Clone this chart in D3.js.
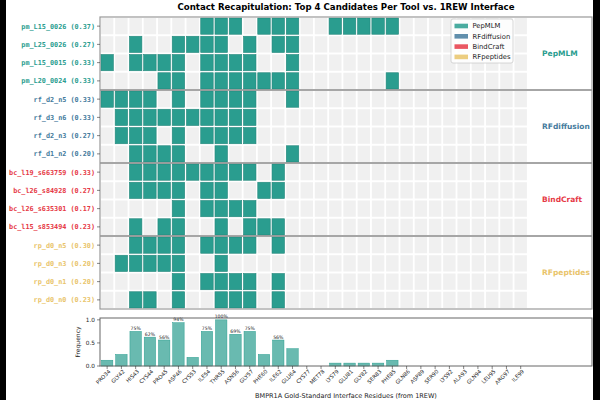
<!DOCTYPE html>
<html><head><meta charset="utf-8">
<script src="https://cdn.jsdelivr.net/npm/d3@7"></script>
<style>html,body{margin:0;padding:0;background:#000;}svg{display:block;}</style>
</head><body>
<svg id="c" width="600" height="400"></svg>
<script>
const residues = ["PRO34","GLY42","HIS43","CYS44","PRO45","ASP46","CYS53","ILE54","THR55","ASN56","GLY57","PHE60","ILE62","GLU64","CYS77","MET78","LYS79","GLU81","GLY82","SER83","PHE85","GLN86","ASP89","SER90","LYS92","ALA93","GLN94","LEU95","ARG97","ILE99"];
const tools = ["PepMLM","RFdiffusion","BindCraft","RFpeptides"];
const toolColors = ["#2a9d8f","#457b9d","#e63946","#e9c46a"];
const candidates = ["pm_L15_0026","pm_L25_0026","pm_L15_0015","pm_L20_0024",
  "rf_d2_n5","rf_d3_n6","rf_d2_n3","rf_d1_n2",
  "bc_l19_s663759","bc_l26_s84928","bc_l26_s635301","bc_l15_s853494",
  "rp_d0_n5","rp_d0_n3","rp_d0_n1","rp_d0_n0"];
const candidateTool = [0,0,0,0,1,1,1,1,2,2,2,2,3,3,3,3];
const scores = [0.37,0.27,0.33,0.33,0.33,0.33,0.27,0.20,0.33,0.27,0.17,0.23,0.30,0.20,0.20,0.23];
// residue indices contacted by each candidate
const contacts = [
  [7,8,9,11,12,13,16,17,18,19,20],
  [2,5,6,7,8,10,12,13],
  [0,2,3,4,5,7,8,9,10,13],
  [4,5,7,8,9,10,11,12,13,20],
  [0,1,2,3,5,7,8,9,10,13],
  [1,2,3,4,5,6,7,8,9,10],
  [1,2,3,5,7,8,9,10],
  [2,3,4,5,8,13],
  [2,3,4,5,6,7,8,9,10,12],
  [2,3,4,5,7,8,11,12],
  [5,7,8,9,10],
  [2,4,5,8,10,11,12],
  [2,3,4,5,7,8,9,10,12],
  [1,2,3,4,5,8],
  [5,7,8,9,10,12],
  [2,3,5,8,9,10,12]
];
const freqTicks = [0, 0.5, 1.0];

const svg = d3.select("#c");
svg.append("rect").attr("x",6).attr("y",0).attr("width",587).attr("height",400).attr("fill","#fff");

const x = d3.scaleLinear().domain([-0.5, 34]).range([100, 592]);
const y = d3.scaleLinear().domain([-0.5, 15.5]).range([17, 309]);
const cw = x(1)-x(0), ch = y(1)-y(0);

// title
svg.append("text").attr("x",346).attr("y",10).attr("text-anchor","middle")
  .attr("font-family","DejaVu Sans").attr("font-weight","bold").attr("font-size",8.6)
  .text("Contact Recapitulation: Top 4 Candidates Per Tool vs. 1REW Interface");

// cells
const cells = [];
candidates.forEach((c,r)=>residues.forEach((res,i)=>cells.push({r,i,on:contacts[r].includes(i)})));
svg.append("g").selectAll("rect").data(cells).join("rect")
  .attr("x",d=>x(d.i)-cw/2+0.9).attr("y",d=>y(d.r)-ch/2+1)
  .attr("width",cw-1.8).attr("height",ch-2)
  .attr("fill",d=>d.on?"#2a9d8f":"#f0f0f0")
  .attr("stroke",d=>d.on?"#23877b":"none").attr("stroke-width",0.6);

// group separators
[3.5,7.5,11.5].forEach(b=>{
  svg.append("line").attr("x1",x(-0.5)).attr("x2",x(34)).attr("y1",y(b)).attr("y2",y(b))
    .attr("stroke","#888").attr("stroke-width",1.5);
});
// frame
svg.append("rect").attr("x",x(-0.5)).attr("y",y(-0.5)).attr("width",x(34)-x(-0.5)).attr("height",y(15.5)-y(-0.5))
  .attr("fill","none").attr("stroke","#999").attr("stroke-width",1.2);

// row labels
const yl = svg.append("g");
candidates.forEach((c,r)=>{
  yl.append("line").attr("x1",97).attr("x2",100).attr("y1",y(r)).attr("y2",y(r)).attr("stroke","#333").attr("stroke-width",0.6);
  yl.append("text").attr("x",95).attr("y",y(r)).attr("dy","0.35em").attr("text-anchor","end")
    .attr("font-family","DejaVu Sans Mono").attr("font-weight","bold").attr("font-size",6.8)
    .attr("fill",toolColors[candidateTool[r]])
    .text(`${c} (${scores[r].toFixed(2)})`);
});
// group labels
tools.forEach((t,g)=>{
  svg.append("text").attr("x",x(30.5)).attr("y",y(g*4+1.5)).attr("dy","0.35em")
    .attr("font-family","DejaVu Sans").attr("font-weight","bold").attr("font-size",7.5)
    .attr("fill",toolColors[g]).text(t);
});

// legend
const lg = svg.append("g");
lg.append("rect").attr("x",451).attr("y",19).attr("width",62).attr("height",44).attr("rx",2)
  .attr("fill","#fff").attr("fill-opacity",0.85).attr("stroke","#ccc").attr("stroke-width",0.8);
tools.forEach((t,g)=>{
  const yy = 26 + g*10.3;
  lg.append("rect").attr("x",454.5).attr("y",yy-2.3).attr("width",13.5).attr("height",4.6)
    .attr("fill",toolColors[g]).attr("fill-opacity",0.85);
  lg.append("text").attr("x",472.5).attr("y",yy).attr("dy","0.35em")
    .attr("font-family","DejaVu Sans").attr("font-size",6.8).attr("fill","#222").text(t);
});

// bar chart
const freq = residues.map((r,i)=>contacts.filter(c=>c.includes(i)).length / contacts.length);
function pct(f){ const v=f*100, fl=Math.floor(v); const r = (v-fl===0.5) ? (fl%2===0?fl:fl+1) : Math.round(v); return r+"%"; }
const yb = d3.scaleLinear().domain([0, 1.04]).range([366, 318]);
const bw = cw*0.8;
svg.append("g").selectAll("rect").data(freq).join("rect")
  .attr("x",(d,i)=>x(i)-bw/2).attr("y",d=>yb(d)).attr("width",bw).attr("height",d=>yb(0)-yb(d))
  .attr("fill","#2a9d8f").attr("fill-opacity",0.7).attr("stroke","#2a9d8f").attr("stroke-width",0.5);
svg.append("g").selectAll("text").data(freq.map((f,i)=>({f,i})).filter(d=>d.f>0.5)).join("text")
  .attr("x",d=>x(d.i)).attr("y",d=>yb(d.f)-1.5).attr("text-anchor","middle")
  .attr("font-family","DejaVu Sans").attr("font-size",4.6).attr("fill","#222")
  .text(d=>pct(d.f));
svg.append("rect").attr("x",x(-0.5)).attr("y",318).attr("width",x(34)-x(-0.5)).attr("height",48)
  .attr("fill","none").attr("stroke","#666").attr("stroke-width",1);
// y axis
freqTicks.forEach(t=>{
  svg.append("line").attr("x1",97).attr("x2",100).attr("y1",yb(t)).attr("y2",yb(t)).attr("stroke","#333").attr("stroke-width",0.6);
  svg.append("text").attr("x",95).attr("y",yb(t)).attr("dy","0.35em").attr("text-anchor","end")
    .attr("font-family","DejaVu Sans").attr("font-size",5.8).attr("fill","#222").text(t.toFixed(1));
});
svg.append("text").attr("transform",`translate(80,342) rotate(-90)`).attr("text-anchor","middle")
  .attr("font-family","DejaVu Sans").attr("font-size",6).attr("fill","#222").text("Frequency");
// x axis
residues.forEach((r,i)=>{
  svg.append("line").attr("x1",x(i)).attr("x2",x(i)).attr("y1",366).attr("y2",369).attr("stroke","#333").attr("stroke-width",0.6);
  svg.append("text").attr("transform",`translate(${x(i)+2.5},370.5) rotate(-45)`).attr("text-anchor","end")
    .attr("dy","0.35em").attr("font-family","DejaVu Sans").attr("font-size",5.4).attr("fill","#222").text(r);
});
svg.append("text").attr("x",346).attr("y",398).attr("text-anchor","middle")
  .attr("font-family","DejaVu Sans").attr("font-size",6.5).attr("fill","#222")
  .text("BMPR1A Gold-Standard Interface Residues (from 1REW)");
</script>
</body></html>
